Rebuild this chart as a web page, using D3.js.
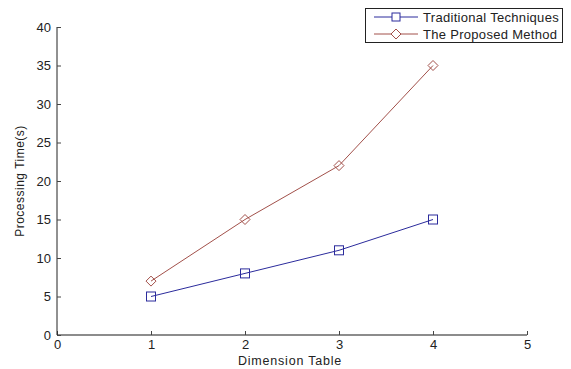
<!DOCTYPE html>
<html>
<head>
<meta charset="utf-8">
<script src="https://cdn.jsdelivr.net/npm/d3@7"></script>
<style>
  body { margin: 0; background: #fff; }
  text { font-family: "Liberation Sans", Arial, sans-serif; fill: #222; }
</style>
</head>
<body>
<svg id="chart" width="571" height="369"></svg>
<script>
// data
const dims = [1, 2, 3, 4];
const traditional = [5, 8, 11, 15];
const proposed = [7, 15, 22, 35];
const xTicks = [0, 1, 2, 3, 4, 5];
const yTicks = [0, 5, 10, 15, 20, 25, 30, 35, 40];
const seriesNames = ["Traditional Techniques", "The Proposed Method"];

const blue = "#2b2b9c";
const red = "#a2504a";

const svg = d3.select("#chart");

let x = d3.scaleLinear().domain([0, 5]).range([57, 527]);
let y = d3.scaleLinear().domain([0, 40]).range([335, 27]);

// axes, ticks point inward like matlab
let xAxis = d3.axisBottom(x).tickValues(xTicks).tickSize(-4).tickPadding(6).tickFormat(d3.format("d"));
let yAxis = d3.axisLeft(y).tickValues(yTicks).tickSize(-4).tickPadding(6);

let gx = svg.append("g").attr("transform", "translate(0,335)").call(xAxis);
let gy = svg.append("g").attr("transform", "translate(57,0)").call(yAxis);

gx.select(".domain").attr("stroke", "#666").attr("stroke-width", 1.5).attr("d", "M57,0H527");
gy.select(".domain").attr("stroke", "#222").attr("d", "M0,335V27");
gx.selectAll(".tick line").attr("stroke", "#444");
gy.selectAll(".tick line").attr("stroke", "#444");
gx.selectAll(".tick text").attr("font-size", 13).attr("fill", "#222").attr("dy", "0.6em");
gy.selectAll(".tick text").attr("font-size", 13).attr("fill", "#222");

// axis titles
svg.append("text")
  .attr("x", 290).attr("y", 365)
  .attr("text-anchor", "middle")
  .attr("font-size", 12.5)
  .attr("letter-spacing", 0.8)
  .text("Dimension Table");

svg.append("text")
  .attr("transform", "translate(24,181) rotate(-90)")
  .attr("text-anchor", "middle")
  .attr("font-size", 12)
  .attr("letter-spacing", 0.5)
  .text("Processing Time(s)");

// lines
let line = d3.line().x((d, i) => x(dims[i])).y(d => y(d));

svg.append("path").datum(traditional)
  .attr("d", line).attr("fill", "none").attr("stroke", blue).attr("stroke-width", 1);
svg.append("path").datum(proposed)
  .attr("d", line).attr("fill", "none").attr("stroke", red).attr("stroke-width", 1);

// markers
svg.selectAll(".sq").data(traditional).join("rect")
  .attr("class", "sq")
  .attr("x", (d, i) => x(dims[i]) - 4.5)
  .attr("y", d => y(d) - 4.5)
  .attr("width", 9).attr("height", 9)
  .attr("fill", "none").attr("stroke", blue);

let diamond = (cx, cy) => `M${cx},${cy - 5}L${cx + 5},${cy}L${cx},${cy + 5}L${cx - 5},${cy}Z`;

svg.selectAll(".dm").data(proposed).join("path")
  .attr("class", "dm")
  .attr("d", (d, i) => diamond(x(dims[i]), y(d)))
  .attr("fill", "none").attr("stroke", red);

// legend
let lg = svg.append("g");
lg.append("rect")
  .attr("x", 365.5).attr("y", 8.5).attr("width", 197).attr("height", 34)
  .attr("fill", "#fff").attr("stroke", "#222");

let rows = [
  { name: seriesNames[0], color: blue, mark: "sq", cy: 17 },
  { name: seriesNames[1], color: red, mark: "dm", cy: 34 }
];
rows.forEach(r => {
  lg.append("line").attr("x1", 374).attr("x2", 418).attr("y1", r.cy).attr("y2", r.cy)
    .attr("stroke", r.color);
  if (r.mark === "sq") {
    lg.append("rect").attr("x", 392).attr("y", r.cy - 4).attr("width", 8).attr("height", 8)
      .attr("fill", "#fff").attr("stroke", r.color);
  } else {
    lg.append("path").attr("d", diamond(396, r.cy)).attr("fill", "#fff").attr("stroke", r.color);
  }
  lg.append("text").attr("x", 423).attr("y", r.cy + 4.5).attr("font-size", 13)
    .attr("letter-spacing", 0.3).text(r.name);
});
</script>
</body>
</html>
